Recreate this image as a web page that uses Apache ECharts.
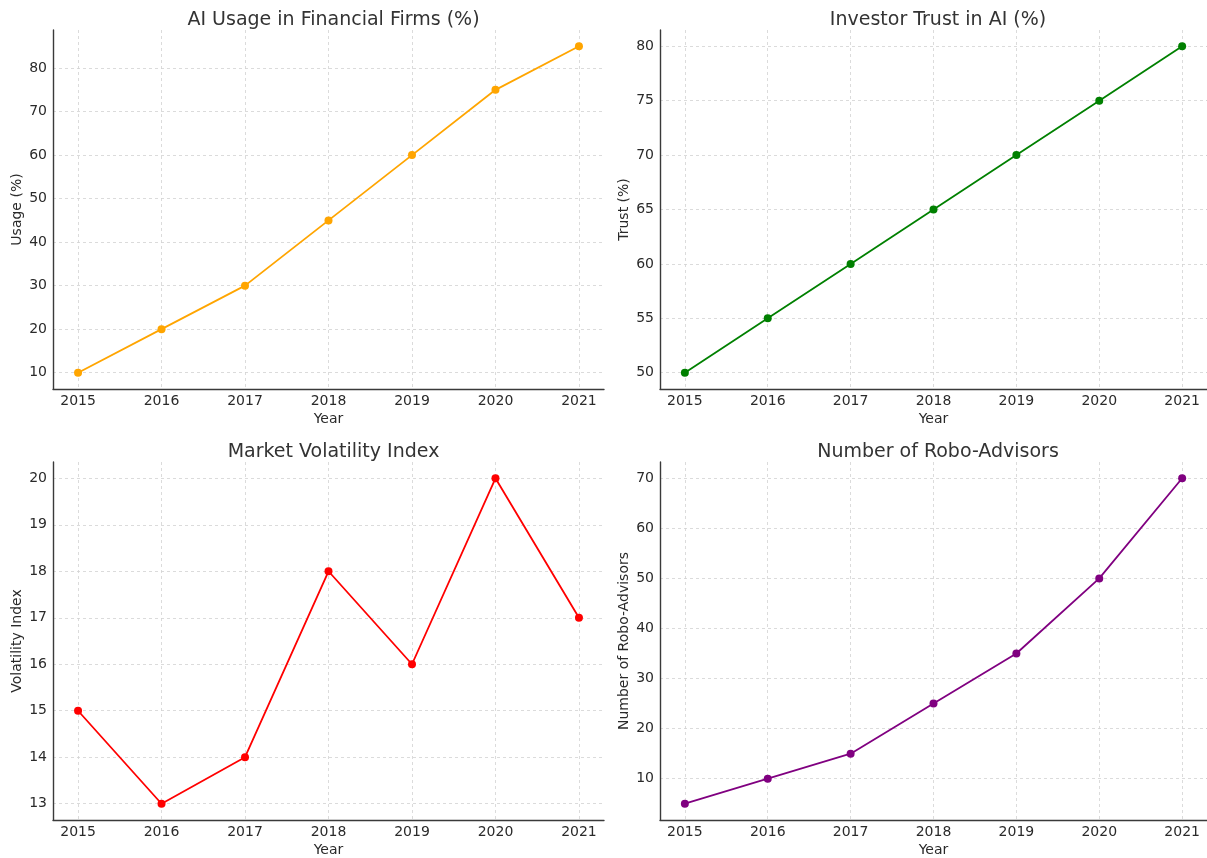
<!DOCTYPE html>
<html><head><meta charset="utf-8">
<script src="https://cdn.jsdelivr.net/npm/echarts@6/dist/echarts.min.js"></script>
<style>html,body{margin:0;padding:0;background:#fff}#c{width:1207px;height:858px}</style>
</head><body><div id="c"></div>
<script>
const years = [2015, 2016, 2017, 2018, 2019, 2020, 2021];
const aiUsage = [10, 20, 30, 45, 60, 75, 85];
const investorTrust = [50, 55, 60, 65, 70, 75, 80];
const volatility = [15, 13, 14, 18, 16, 20, 17];
const roboAdvisors = [5, 10, 15, 25, 35, 50, 70];
const usageTicks = [10, 20, 30, 40, 50, 60, 70, 80];
const trustTicks = [50, 55, 60, 65, 70, 75, 80];
const volTicks = [13, 14, 15, 16, 17, 18, 19, 20];
const roboTicks = [10, 20, 30, 40, 50, 60, 70];
const titles = ['AI Usage in Financial Firms (%)', 'Investor Trust in AI (%)', 'Market Volatility Index', 'Number of Robo-Advisors'];
const yNames = ['Usage (%)', 'Trust (%)', 'Volatility Index', 'Number of Robo-Advisors'];
const xName = 'Year';
const colors = ['#FFA500', '#008000', '#FF0000', '#800080'];

const panels = [
  {data: aiUsage, ticks: usageTicks},
  {data: investorTrust, ticks: trustTicks},
  {data: volatility, ticks: volTicks},
  {data: roboAdvisors, ticks: roboTicks}
];
const FONT = 'DejaVu Sans';
const grids = [
  {left: 53, top: 30, width: 551, height: 359},
  {left: 660, top: 30, width: 551, height: 359},
  {left: 53, top: 462, width: 551, height: 359},
  {left: 660, top: 462, width: 551, height: 359}
];
function pad(arr) {
  const mn = Math.min(...arr), mx = Math.max(...arr), m = (mx - mn) * 0.05;
  return [mn - m, mx + m];
}
const xr = pad(years);
const gridLine = {show: true, lineStyle: {color: '#d2d2d2', width: 0.8, type: [3, 3]}};
const spine = {show: true, lineStyle: {color: '#3a3a3a', width: 1.4}};
const option = {
  animation: false,
  backgroundColor: '#fff',
  title: grids.map((g, i) => ({
    text: titles[i], left: g.left + g.width / 2 - (i % 2 ? 2.5 : 0), top: i < 2 ? 6 : 438, textAlign: 'center',
    textStyle: {fontFamily: FONT, fontSize: 19, fontWeight: 'normal', color: '#333'}
  })),
  grid: grids.map(g => Object.assign({containLabel: false}, g)),
  xAxis: grids.map((g, i) => ({
    type: 'value', gridIndex: i, min: xr[0], max: xr[1],
    name: xName, nameLocation: 'middle', nameGap: 23,
    nameTextStyle: {fontFamily: FONT, fontSize: 14, color: '#2a2a2a'},
    axisLine: spine, axisTick: {show: false, customValues: years},
    axisLabel: {customValues: years, fontFamily: FONT, fontSize: 14, color: '#2a2a2a', margin: 5, formatter: v => String(v)},
    splitLine: gridLine
  })),
  yAxis: grids.map((g, i) => {
    const r = pad(panels[i].data);
    return {
      type: 'value', gridIndex: i, min: r[0], max: r[1],
      name: yNames[i], nameLocation: 'middle', nameRotate: 90, nameGap: 29,
      nameTextStyle: {fontFamily: FONT, fontSize: 14, color: '#2a2a2a'},
      axisLine: spine, axisTick: {show: false, customValues: panels[i].ticks},
      axisLabel: {customValues: panels[i].ticks, fontFamily: FONT, fontSize: 14, color: '#2a2a2a', margin: 6, formatter: v => String(v)},
      splitLine: gridLine
    };
  }),
  series: panels.map((p, i) => ({
    type: 'line', xAxisIndex: i, yAxisIndex: i,
    data: years.map((y, k) => [y, p.data[k]]),
    symbol: 'circle', symbolSize: 8,
    lineStyle: {color: colors[i], width: 1.8},
    itemStyle: {color: colors[i]}
  }))
};
echarts.init(document.getElementById('c'), null, {renderer: 'canvas'}).setOption(option);
</script></body></html>
